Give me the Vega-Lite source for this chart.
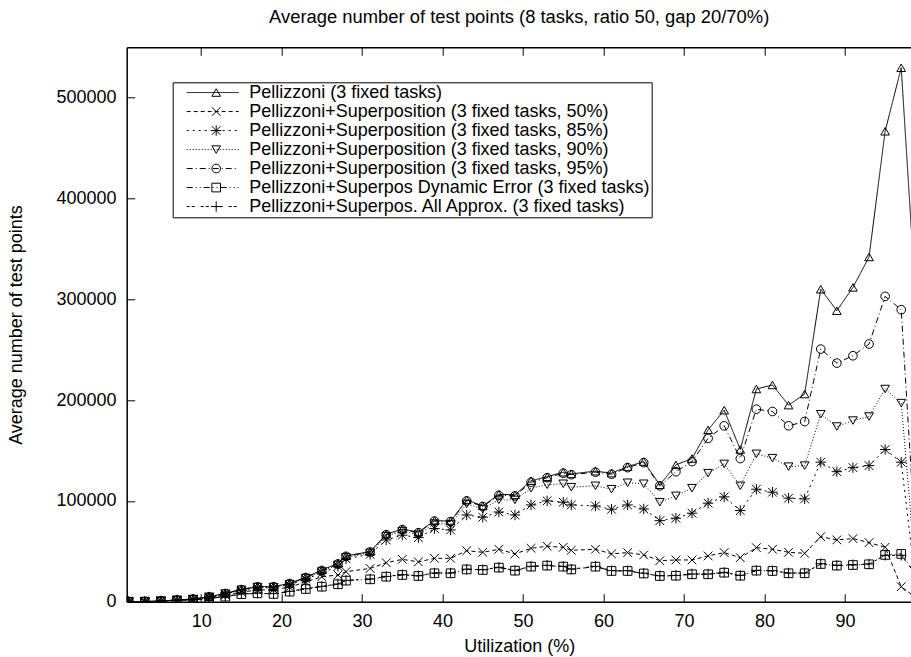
{
  "$schema": "https://vega.github.io/schema/vega-lite/v6.json",
  "width": 785,
  "height": 554.4,
  "autosize": {"type": "none"},
  "padding": {"left": 126.7, "top": 47.3, "right": 0, "bottom": 55.3},
  "background": "white",
  "title": {"text": "Average number of test points (8 tasks, ratio 50, gap 20/70%)", "font": "Liberation Sans", "fontSize": 18.4, "fontWeight": "normal", "color": "black", "anchor": "middle", "frame": "group", "offset": 20},
  "config": {"view": {"stroke": null}, "font": "Liberation Sans"},
  "datasets": {
    "names": [
      {"s": "P", "name": "Pellizzoni (3 fixed tasks)", "order": 1},
      {"s": "S50", "name": "Pellizzoni+Superposition (3 fixed tasks, 50%)", "order": 2},
      {"s": "S85", "name": "Pellizzoni+Superposition (3 fixed tasks, 85%)", "order": 3},
      {"s": "S90", "name": "Pellizzoni+Superposition (3 fixed tasks, 90%)", "order": 4},
      {"s": "S95", "name": "Pellizzoni+Superposition (3 fixed tasks, 95%)", "order": 5},
      {"s": "DE", "name": "Pellizzoni+Superpos Dynamic Error (3 fixed tasks)", "order": 6},
      {"s": "AA", "name": "Pellizzoni+Superpos. All Approx. (3 fixed tasks)", "order": 7}
    ]
  },
  "data": {"values": [
    {"u": 1, "P": 0, "S50": 0, "S85": 0, "S90": 0, "S95": 0, "DE": 0, "AA": 0},
    {"u": 3, "P": 100, "S50": 100, "S85": 100, "S90": 100, "S95": 100, "DE": 100, "AA": 100},
    {"u": 5, "P": 700, "S50": 600, "S85": 700, "S90": 700, "S95": 700, "DE": 500, "AA": 500},
    {"u": 7, "P": 1700, "S50": 1400, "S85": 1600, "S90": 1700, "S95": 1700, "DE": 1200, "AA": 1200},
    {"u": 9, "P": 2700, "S50": 2200, "S85": 2500, "S90": 2600, "S95": 2600, "DE": 1800, "AA": 1900},
    {"u": 11, "P": 5000, "S50": 4000, "S85": 4600, "S90": 4800, "S95": 4900, "DE": 3200, "AA": 3400},
    {"u": 13, "P": 8300, "S50": 6500, "S85": 7600, "S90": 8000, "S95": 8100, "DE": 5000, "AA": 5300},
    {"u": 15, "P": 12300, "S50": 9500, "S85": 11200, "S90": 11800, "S95": 12000, "DE": 7500, "AA": 7800},
    {"u": 17, "P": 15000, "S50": 11500, "S85": 13800, "S90": 14500, "S95": 14800, "DE": 8300, "AA": 8600},
    {"u": 19, "P": 15000, "S50": 12000, "S85": 13800, "S90": 14500, "S95": 14800, "DE": 7700, "AA": 8000},
    {"u": 21, "P": 18200, "S50": 14500, "S85": 16800, "S90": 17500, "S95": 18000, "DE": 10000, "AA": 10300},
    {"u": 23, "P": 24200, "S50": 19500, "S85": 22500, "S90": 23500, "S95": 24000, "DE": 12600, "AA": 12900},
    {"u": 25, "P": 31500, "S50": 24800, "S85": 28500, "S90": 30000, "S95": 31000, "DE": 14900, "AA": 15200},
    {"u": 27, "P": 38000, "S50": 26500, "S85": 35000, "S90": 36500, "S95": 37500, "DE": 17300, "AA": 17600},
    {"u": 28, "P": 45400, "S50": 29800, "S85": 42500, "S90": 44000, "S95": 45000, "DE": 20900, "AA": 21200},
    {"u": 31, "P": 49700, "S50": 33000, "S85": 47000, "S90": 48500, "S95": 49300, "DE": 22200, "AA": 22500},
    {"u": 33, "P": 67000, "S50": 38700, "S85": 61300, "S90": 65000, "S95": 66500, "DE": 24800, "AA": 25100},
    {"u": 35, "P": 72000, "S50": 42000, "S85": 66000, "S90": 70000, "S95": 71500, "DE": 26500, "AA": 26800},
    {"u": 37, "P": 69000, "S50": 39500, "S85": 63600, "S90": 66500, "S95": 68500, "DE": 25500, "AA": 25800},
    {"u": 39, "P": 80500, "S50": 43000, "S85": 72500, "S90": 77500, "S95": 80000, "DE": 28200, "AA": 28500},
    {"u": 41, "P": 80000, "S50": 43000, "S85": 71200, "S90": 77000, "S95": 79500, "DE": 28200, "AA": 28500},
    {"u": 43, "P": 101000, "S50": 50600, "S85": 86000, "S90": 97000, "S95": 100000, "DE": 32000, "AA": 32300},
    {"u": 45, "P": 95000, "S50": 49000, "S85": 83800, "S90": 92000, "S95": 94500, "DE": 31500, "AA": 31800},
    {"u": 47, "P": 106500, "S50": 52000, "S85": 89000, "S90": 101000, "S95": 105500, "DE": 33800, "AA": 34100},
    {"u": 49, "P": 106000, "S50": 47400, "S85": 86000, "S90": 101000, "S95": 105000, "DE": 30800, "AA": 31100},
    {"u": 51, "P": 120000, "S50": 53000, "S85": 96000, "S90": 112600, "S95": 118500, "DE": 34800, "AA": 35100},
    {"u": 53, "P": 124000, "S50": 55000, "S85": 100000, "S90": 116000, "S95": 123000, "DE": 35800, "AA": 36100},
    {"u": 55, "P": 128500, "S50": 54000, "S85": 98700, "S90": 117000, "S95": 127500, "DE": 34800, "AA": 35100},
    {"u": 56, "P": 126800, "S50": 51000, "S85": 96000, "S90": 113600, "S95": 126000, "DE": 32000, "AA": 32300},
    {"u": 59, "P": 129500, "S50": 52000, "S85": 95000, "S90": 115000, "S95": 128500, "DE": 34800, "AA": 35100},
    {"u": 61, "P": 127500, "S50": 47400, "S85": 91700, "S90": 111600, "S95": 126500, "DE": 30500, "AA": 30800},
    {"u": 63, "P": 134000, "S50": 48700, "S85": 96000, "S90": 118000, "S95": 133000, "DE": 30500, "AA": 30800},
    {"u": 65, "P": 139000, "S50": 46400, "S85": 92000, "S90": 117000, "S95": 138000, "DE": 28000, "AA": 28300},
    {"u": 67, "P": 116000, "S50": 40700, "S85": 80400, "S90": 98700, "S95": 115000, "DE": 25500, "AA": 25800},
    {"u": 69, "P": 135700, "S50": 41400, "S85": 82800, "S90": 105000, "S95": 129000, "DE": 25800, "AA": 26100},
    {"u": 71, "P": 142000, "S50": 41400, "S85": 87800, "S90": 112600, "S95": 139000, "DE": 27200, "AA": 27500},
    {"u": 73, "P": 170500, "S50": 45400, "S85": 97700, "S90": 127500, "S95": 162000, "DE": 27200, "AA": 27500},
    {"u": 75, "P": 190000, "S50": 48700, "S85": 104000, "S90": 136700, "S95": 174500, "DE": 28800, "AA": 29100},
    {"u": 77, "P": 151000, "S50": 43700, "S85": 90400, "S90": 115000, "S95": 142000, "DE": 25800, "AA": 26100},
    {"u": 79, "P": 211000, "S50": 53600, "S85": 111600, "S90": 146700, "S95": 191000, "DE": 30800, "AA": 31100},
    {"u": 81, "P": 215000, "S50": 52000, "S85": 108600, "S90": 142400, "S95": 188700, "DE": 30500, "AA": 30800},
    {"u": 83, "P": 195000, "S50": 49000, "S85": 102700, "S90": 134000, "S95": 174500, "DE": 28200, "AA": 28500},
    {"u": 85, "P": 206000, "S50": 48000, "S85": 102000, "S90": 135000, "S95": 178700, "DE": 28200, "AA": 28500},
    {"u": 87, "P": 310000, "S50": 64500, "S85": 138400, "S90": 186000, "S95": 250600, "DE": 37400, "AA": 37700},
    {"u": 89, "P": 288700, "S50": 61300, "S85": 129000, "S90": 173800, "S95": 236700, "DE": 35800, "AA": 36100},
    {"u": 91, "P": 311800, "S50": 62600, "S85": 133000, "S90": 179700, "S95": 244000, "DE": 36400, "AA": 36700},
    {"u": 93, "P": 342000, "S50": 58600, "S85": 135000, "S90": 183700, "S95": 255600, "DE": 37100, "AA": 37400},
    {"u": 95, "P": 466700, "S50": 54000, "S85": 151000, "S90": 211000, "S95": 302900, "DE": 46400, "AA": 46000},
    {"u": 97, "P": 529700, "S50": 14900, "S85": 138400, "S90": 197000, "S95": 289700, "DE": 47400, "AA": 46000},
    {"u": 99, "P": 275000, "S50": 3000, "S85": 5000, "S90": 10000, "S95": 30000, "DE": 25000, "AA": 25000}
  ]},
  "transform": [
    {"fold": ["P", "S50", "S85", "S90", "S95", "DE", "AA"], "as": ["s", "v"]},
    {"lookup": "s", "from": {"data": {"name": "names"}, "key": "s", "fields": ["name", "order"]}}
  ],
  "encoding": {
    "y": {
      "field": "v", "type": "quantitative",
      "scale": {"domain": [0, 550000], "nice": false, "zero": true},
      "axis": {
        "values": [0, 100000, 200000, 300000, 400000, 500000],
        "format": "d", "grid": false,
        "domain": true, "domainColor": "black", "domainWidth": 1.5,
        "ticks": true, "tickSize": -8, "tickColor": "black", "tickWidth": 1,
        "labelFont": "Liberation Sans", "labelFontSize": 18, "labelColor": "black", "labelPadding": 18.7, "labelOverlap": false,
        "title": "Average number of test points", "titleFont": "Liberation Sans", "titleFontSize": 18, "titleFontWeight": "normal", "titleColor": "black", "titlePadding": 30
      }
    }
  },
  "layer": [
    {
      "mark": {"type": "line", "clip": true, "color": "black", "strokeWidth": 1},
      "encoding": {
        "x": {
          "field": "u", "type": "quantitative",
          "scale": {"domain": [0.75, 98.3], "nice": false, "zero": false},
          "axis": {
            "orient": "bottom", "values": [10, 20, 30, 40, 50, 60, 70, 80, 90], "grid": false,
            "domain": true, "domainColor": "black", "domainWidth": 1.5,
            "ticks": true, "tickSize": -8, "tickColor": "black", "tickWidth": 1,
            "labelFont": "Liberation Sans", "labelFontSize": 18, "labelColor": "black", "labelPadding": 19, "labelFlush": false, "labelOverlap": false,
            "title": "Utilization (%)", "titleFont": "Liberation Sans", "titleFontSize": 18, "titleFontWeight": "normal", "titleColor": "black", "titlePadding": 7
          }
        },
        "strokeDash": {
          "field": "name", "type": "nominal",
          "scale": {
            "domain": [
              "Pellizzoni (3 fixed tasks)",
              "Pellizzoni+Superposition (3 fixed tasks, 50%)",
              "Pellizzoni+Superposition (3 fixed tasks, 85%)",
              "Pellizzoni+Superposition (3 fixed tasks, 90%)",
              "Pellizzoni+Superposition (3 fixed tasks, 95%)",
              "Pellizzoni+Superpos Dynamic Error (3 fixed tasks)",
              "Pellizzoni+Superpos. All Approx. (3 fixed tasks)"
            ],
            "range": [[1, 0], [4, 3], [2, 4], [1, 2], [6, 3, 1, 3], [6, 3, 1, 3, 1, 3], [3, 2, 3, 6]]
          },
          "legend": {
            "orient": "none", "legendX": 46, "legendY": 35, "title": null,
            "symbolType": "M-3,0H3", "symbolSize": 300, "symbolStrokeWidth": 1, "symbolStrokeColor": "black", "symbolFillColor": "transparent",
            "symbolOffset": 29.5, "labelOffset": 27,
            "labelFont": "Liberation Sans", "labelFontSize": 18, "labelColor": "black", "labelLimit": 600,
            "clipHeight": 18.5,
            "padding": 1, "rowPadding": 0, "strokeColor": "black"
          }
        },
        "order": {"field": "u", "type": "quantitative"}
      }
    },
    {
      "mark": {"type": "point", "clip": true, "filled": false, "color": "black", "strokeWidth": 1, "size": 75, "opacity": 1},
      "encoding": {
        "x": {
          "field": "u", "type": "quantitative",
          "scale": {"domain": [0.75, 98.3], "nice": false, "zero": false},
          "axis": {
            "orient": "top", "values": [10, 20, 30, 40, 50, 60, 70, 80, 90], "grid": false,
            "domain": true, "domainColor": "black", "domainWidth": 1.5,
            "ticks": true, "tickSize": -8, "tickColor": "black", "tickWidth": 1,
            "labels": false, "title": null
          }
        },
        "shape": {
          "field": "name", "type": "nominal",
          "sort": {"field": "order", "op": "min"},
          "scale": {
            "range": [
              "triangle-up",
              "M-1,-1L1,1M-1,1L1,-1",
              "M-1,-1L1,1M-1,1L1,-1M-1.2,0L1.2,0M0,-1.2L0,1.2",
              "triangle-down",
              "circle",
              "square",
              "M-1.2,0L1.2,0M0,-1.2L0,1.2"
            ]
          },
          "legend": {
            "orient": "none", "legendX": 46, "legendY": 35, "title": null,
            "symbolSize": 75, "symbolStrokeWidth": 1, "symbolStrokeColor": "black", "symbolFillColor": "transparent",
            "symbolOffset": 33.5,
            "labelFont": "Liberation Sans", "labelFontSize": 18, "labelColor": "black", "labelLimit": 600, "labelOpacity": 0,
            "clipHeight": 18.5,
            "padding": 1, "rowPadding": 0
          }
        }
      }
    }
  ],
  "resolve": {"axis": {"x": "independent"}}
}
